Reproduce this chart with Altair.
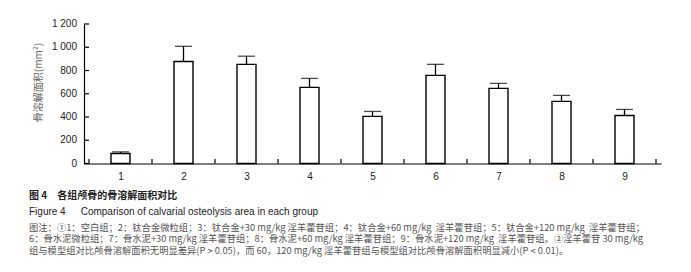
import altair as alt
import pandas as pd

groups = [1, 2, 3, 4, 5, 6, 7, 8, 9]
means = [86, 878, 853, 655, 405, 758, 646, 534, 413]
errs = [14, 130, 70, 77, 43, 95, 43, 52, 52]
y_ticks = [0, 200, 400, 600, 800, 1000, 1200]
y_labels = ["0", "200", "400", "600", "800", "1 000", "1 200"]
x_bounds = [0.5, 1.5, 2.5, 3.5, 4.5, 5.5, 6.5, 7.5, 8.5, 9.5]

caption_cn = "图 4\u2003各组颅骨的骨溶解面积对比"
caption_en = "Figure 4\u2003\u2002Comparison of calvarial osteolysis area in each group"
notes = [
    "图注：①1：空白组；2：钛合金微粒组；3：钛合金+30 mg/kg 淫羊藿苷组；4：钛合金+60 mg/kg\u00a0 淫羊藿苷组；5：钛合金+120 mg/kg\u00a0 淫羊藿苷组；",
    "6：骨水泥微粒组；7：骨水泥+30 mg/kg 淫羊藿苷组；8：骨水泥+60 mg/kg 淫羊藿苷组；9：骨水泥+120 mg/kg\u00a0 淫羊藿苷组。②淫羊藿苷 30 mg/kg",
    "组与模型组对比颅骨溶解面积无明显差异(P > 0.05)，而 60，120 mg/kg 淫羊藿苷组与模型组对比颅骨溶解面积明显减小(P < 0.01)。",
]

W, H = 577, 139.5

df = pd.DataFrame({"g": groups, "m": means, "e": errs})
df["top"] = df["m"] + df["e"]

xs = alt.Scale(domain=[0.5, 9.5], nice=False, zero=False)
ys = alt.Scale(domain=[0, 1200], nice=False)

xenc = alt.X("g:Q", scale=xs, axis=alt.Axis(
    values=groups, ticks=False, grid=False, domainColor="black", domainWidth=1.2,
    labelFont="Liberation Sans", labelFontSize=10, labelColor="#222", labelPadding=8,
    labelOverlap=False, title=None, format="d"))
yaxis = alt.Axis(
    values=y_ticks, ticks=False, grid=False, domainColor="black", domainWidth=1.2,
    labels=False,
    title="骨溶解面积(mm²)", titleFont="Noto Sans CJK SC", titleFontSize=10,
    titleFontWeight="normal", titleColor="#666", titleAngle=270,
    titleX=-46, titleY=58, titleAlign="center", titleBaseline="middle")

bars = alt.Chart(df).mark_bar(width=19, fill="white", stroke="black", strokeWidth=1.4).encode(
    x=xenc, y=alt.Y("m:Q", scale=ys, axis=yaxis))
err_rule = alt.Chart(df).mark_rule(color="black", strokeWidth=1.3).encode(
    x="g:Q", y="m:Q", y2="top:Q")
err_cap = alt.Chart(df).mark_tick(orient="horizontal", size=17, thickness=1.3, color="black").encode(
    x="g:Q", y="top:Q")

ydf = pd.DataFrame({"v": y_ticks, "lab": y_labels})
yt = alt.Chart(ydf).mark_rule(color="black", strokeWidth=1.2).encode(
    y=alt.Y("v:Q", scale=ys), x=alt.value(0), x2=alt.value(5))
ylab = alt.Chart(ydf).mark_text(align="right", baseline="middle", font="Liberation Sans",
                                fontSize=10, color="#222").encode(
    y=alt.Y("v:Q", scale=ys), x=alt.value(-7), text="lab:N")
xt = alt.Chart(pd.DataFrame({"b": x_bounds})).mark_rule(color="black", strokeWidth=1.2).encode(
    x=alt.X("b:Q", scale=xs), y=alt.value(H), y2=alt.value(H - 4.5))

texts = [
    alt.Chart(pd.DataFrame({"t": [caption_cn]})).mark_text(
        align="left", baseline="middle", font="Noto Sans CJK SC", fontSize=10,
        fontWeight="bold", color="#222").encode(text="t:N", x=alt.value(-55), y=alt.value(172)),
    alt.Chart(pd.DataFrame({"t": [caption_en]})).mark_text(
        align="left", baseline="middle", font="Liberation Sans", fontSize=10,
        color="#222").encode(text="t:N", x=alt.value(-55), y=alt.value(187.5)),
]
for i, line in enumerate(notes):
    texts.append(alt.Chart(pd.DataFrame({"t": [line]})).mark_text(
        align="left", baseline="middle", font="Noto Sans CJK SC", fontSize=9.3,
        color="#555").encode(text="t:N", x=alt.value(-55), y=alt.value(203.5 + 11.5 * i)))

chart = alt.layer(bars, err_rule, err_cap, yt, ylab, xt, *texts).properties(
    width=W, height=H,
    autosize=alt.AutoSizeParams(type="none"),
    padding={"left": 76, "top": 16, "right": 22, "bottom": 100},
    background="white",
).configure_view(stroke=None)

chart.save("out.html", embed_options={"renderer": "svg", "actions": False})
